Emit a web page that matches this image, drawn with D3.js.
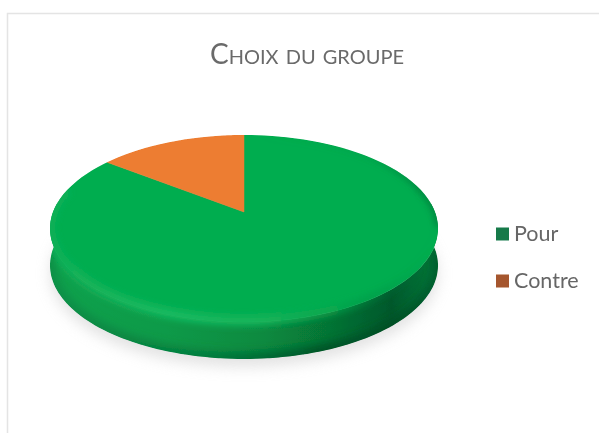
<!DOCTYPE html>
<html><head><meta charset="utf-8">
<script src="https://cdn.jsdelivr.net/npm/d3@7"></script>
<style>html,body{margin:0;padding:0;background:#fff;overflow:hidden}svg{display:block}</style>
</head><body><div id="c"></div>
<script>
const title = "Choix du groupe";
const categories = ["Pour", "Contre"];
const values = [85.4, 14.6];
const colors = ["#00ad50", "#ed7d31"];
const legendColors = ["#157a4a", "#a5562e"];

const W = 599, H = 433;
const svg = d3.select("#c").append("svg").attr("width", W).attr("height", H);
const defs = svg.append("defs");
const blur = (id, s) => defs.append("filter").attr("id", id)
  .attr("x", "-20%").attr("y", "-20%").attr("width", "140%").attr("height", "140%")
  .append("feGaussianBlur").attr("stdDeviation", s);
blur("b05", 0.7); blur("b3", 3); blur("b5", 5); blur("b8", 7);

const grad = (id, stops) => {
  const g = defs.append("linearGradient").attr("id", id);
  stops.forEach(([o, c, a]) => g.append("stop").attr("offset", o).attr("stop-color", c).attr("stop-opacity", a === undefined ? 1 : a));
};
grad("side", [[0, "#0ea24e"], [0.3, "#0c9a48"], [0.55, "#088a40"], [0.72, "#067434"], [0.88, "#04582c"], [1, "#067a3a"]]);
grad("rim", [[0, "#12b058", 0.9], [0.3, "#18ba60"], [0.55, "#16b45a"], [0.75, "#0aa24c", 0.6], [0.9, "#05803c", 0.15], [1, "#05803c", 0]]);
grad("low", [[0, "#05703a", 0.4], [0.4, "#05703a", 0.75], [0.7, "#034a24", 0.9], [1, "#034a24", 0.6]]);
grad("upper", [[0, "#078a40", 0], [0.6, "#078a40", 0.25], [0.9, "#067a3a", 0.9], [1, "#067a3a", 0.9]]);

// Projected disc: the centre of the pie sits above the middle of the ellipse
const cx = 244, cy = 212, B = 191, A = 90.6, k = 0.176, depth = 37;
const project = (a, r = 1) => {
  const x = r * Math.sin(a), y = -r * Math.cos(a), w = 1 - k * y;
  return [cx + B * x / w, cy + A * y / w];
};
const arcs = d3.pie().sort(null).value(d => d)(values);
const line = d3.line();
const sample = (a0, a1) => d3.range(0, 121).map(i => project(a0 + (a1 - a0) * i / 120));
const full = sample(0, 2 * Math.PI);
const front = sample(Math.PI * 0.47, Math.PI * 1.53);
const shifted = pts => pts.map(([x, y]) => [x, y + depth]);
const wall = line(front.concat(shifted(front).reverse())) + "Z";

const clip = defs.append("clipPath").attr("id", "solid");
clip.append("path").attr("d", line(full) + "Z");
clip.append("path").attr("d", line(shifted(full)) + "Z");
clip.append("path").attr("d", wall);

const g = svg.append("g");

// frame
g.append("path").attr("d", `M7.5 ${H}V13.5H${W}`).attr("fill", "none").attr("stroke", "#e4e4e4").attr("stroke-width", 1.5).attr("filter", "url(#b05)");

// ground shadow
g.append("path").attr("d", line(shifted(full).map(([x, y]) => [x, y + 8])) + "Z")
  .attr("fill", "#d0d0d0").attr("opacity", 0.6).attr("filter", "url(#b8)");

const solid = g.append("g").attr("filter", "url(#b05)").append("g").attr("clip-path", "url(#solid)");

// side wall
solid.append("path").attr("d", wall).attr("fill", "url(#side)");
solid.append("path").attr("d", line(shifted(sample(Math.PI * 0.5, Math.PI * 1.5))))
  .attr("fill", "none").attr("stroke", "url(#low)").attr("stroke-width", 12).attr("filter", "url(#b5)");

// slices
arcs.forEach((d, i) => {
  solid.append("path").attr("d", line([[cx, cy]].concat(sample(d.startAngle, d.endAngle))) + "Z")
    .attr("fill", colors[i]).attr("stroke", colors[i]).attr("stroke-width", 0.5);
});

// shaded far edge on the right, bevel along the near rim
solid.append("path").attr("d", line(sample(0.1, Math.PI * 0.55)))
  .attr("fill", "none").attr("stroke", "url(#upper)").attr("stroke-width", 5).attr("filter", "url(#b3)");
solid.append("path").attr("d", line(sample(Math.PI * 0.42, Math.PI * 1.58).map(([x, y]) => [x, y - 1])))
  .attr("fill", "none").attr("stroke", "url(#rim)").attr("stroke-width", 10).attr("filter", "url(#b3)");

// title
g.append("text").attr("x", 307).attr("y", 64).attr("text-anchor", "middle")
  .attr("font-family", "Lato").attr("font-size", 28).style("font-variant", "small-caps")
  .attr("fill", "#6a6a6a").attr("filter", "url(#b05)").text(title);

// legend
const legendY = d3.scalePoint().domain(categories).range([234, 281]);
const lg = g.selectAll(".lg").data(categories).join("g").attr("class", "lg")
  .attr("transform", d => `translate(496,${legendY(d)})`).attr("filter", "url(#b05)");
lg.append("rect").attr("x", 0).attr("y", -6.5).attr("width", 13).attr("height", 13)
  .attr("fill", (d, i) => legendColors[i]);
lg.append("text").attr("x", 18).attr("y", 7).attr("font-family", "Lato").attr("font-size", 21.5)
  .attr("fill", "#666").text(d => d);
</script></body></html>
